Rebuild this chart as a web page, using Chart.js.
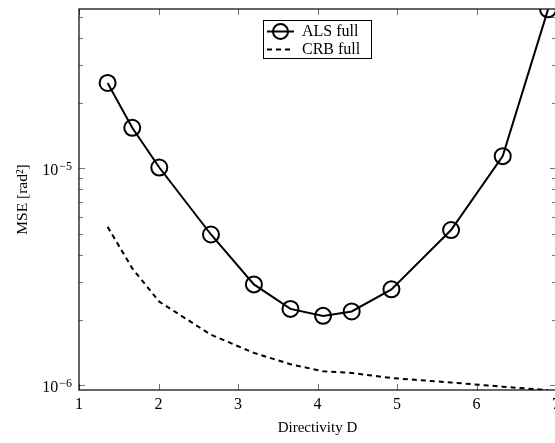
<!DOCTYPE html>
<html>
<head>
<meta charset="utf-8">
<script src="https://cdn.jsdelivr.net/npm/chart.js@4/dist/chart.umd.min.js"></script>
<style>
  html, body { margin: 0; padding: 0; background: #fff; overflow: hidden; }
  #wrap { width: 560px; height: 443px; }
</style>
</head>
<body>
<div id="wrap"><canvas id="myChart" width="560" height="443"></canvas></div>
<script>
// directivity values (x) and MSE values
const directivity = [1.36, 1.67, 2.01, 2.66, 3.2, 3.66, 4.07, 4.43, 4.93, 5.68, 6.33, 6.9];
const alsFull = [2.48e-5, 1.54e-5, 1.01e-5, 4.96e-6, 2.92e-6, 2.25e-6, 2.09e-6, 2.19e-6, 2.77e-6, 5.2e-6, 1.14e-5, 5.42e-5];
const crbFull = [5.38e-6, 3.46e-6, 2.43e-6, 1.71e-6, 1.41e-6, 1.25e-6, 1.16e-6, 1.14e-6, 1.08e-6, 1.03e-6, 0.985e-6, 0.95e-6];
const xTicks = [1, 2, 3, 4, 5, 6, 7];
const yMajor = [1e-6, 1e-5];
const yTicks = [1e-6, 2e-6, 3e-6, 4e-6, 5e-6, 6e-6, 7e-6, 8e-6, 9e-6, 1e-5, 2e-5, 3e-5, 4e-5, 5e-5];
const seriesNames = ["ALS full", "CRB full"];

const serif = "'Liberation Serif', 'DejaVu Serif', serif";

// axis frame, inward ticks, 10^n labels and legend box (pgfplots look)
const framePlugin = {
  id: "frame",
  afterDatasetsDraw(chart) {
    const ctx = chart.ctx;
    const a = chart.chartArea;
    const xs = chart.scales.x;
    const ys = chart.scales.y;
    ctx.save();
    ctx.strokeStyle = "rgba(0,0,0,0.55)";
    ctx.lineWidth = 1;
    ctx.beginPath();
    xTicks.forEach((t) => {
      const px = Math.round(xs.getPixelForValue(t)) + 0.5;
      ctx.moveTo(px, a.bottom);
      ctx.lineTo(px, a.bottom - 6);
      ctx.moveTo(px, a.top);
      ctx.lineTo(px, a.top + 6);
    });
    yTicks.forEach((t) => {
      const py = Math.round(ys.getPixelForValue(t)) + 0.5;
      const len = yMajor.includes(t) ? 6 : 4;
      ctx.moveTo(a.left, py);
      ctx.lineTo(a.left + len, py);
      ctx.moveTo(a.right, py);
      ctx.lineTo(a.right - len, py);
    });
    ctx.stroke();

    ctx.strokeStyle = "#000";
    ctx.lineWidth = 1.2;
    ctx.strokeRect(a.left, a.top, a.right - a.left, a.bottom - a.top);

    // y tick labels 10^n with a real superscript
    ctx.fillStyle = "#000";
    ctx.textBaseline = "alphabetic";
    yMajor.forEach((t) => {
      const py = ys.getPixelForValue(t);
      const expo = "\u2212" + String(-Math.round(Math.log10(t)));
      ctx.font = "12px " + serif;
      const ew = ctx.measureText(expo).width;
      const right = a.left - 7;
      ctx.textAlign = "right";
      ctx.fillText(expo, right, py + 1.5);
      ctx.font = "16px " + serif;
      ctx.fillText("10", right - ew - 1, py + 7);
    });

    // legend
    const bx = 263.5, by = 20.5, bw = 108, bh = 38;
    ctx.fillStyle = "#fff";
    ctx.fillRect(bx, by, bw, bh);
    ctx.lineWidth = 1;
    ctx.strokeStyle = "#000";
    ctx.strokeRect(bx, by, bw, bh);

    ctx.lineWidth = 2;
    ctx.beginPath();
    ctx.moveTo(267, 31.5);
    ctx.lineTo(294, 31.5);
    ctx.stroke();
    ctx.beginPath();
    ctx.arc(280.5, 31.5, 7.5, 0, Math.PI * 2);
    ctx.stroke();

    ctx.setLineDash([5, 4]);
    ctx.beginPath();
    ctx.moveTo(267, 49.5);
    ctx.lineTo(294, 49.5);
    ctx.stroke();
    ctx.setLineDash([]);

    ctx.fillStyle = "#000";
    ctx.font = "16px " + serif;
    ctx.textBaseline = "middle";
    ctx.textAlign = "left";
    ctx.fillText(seriesNames[0], 302, 32);
    ctx.fillText(seriesNames[1], 302, 50);
    ctx.restore();
  },
};

const ctx = document.getElementById("myChart").getContext("2d");
const myChart = new Chart(ctx, {
  type: "line",
  data: {
    datasets: [
      {
        label: seriesNames[0],
        data: directivity.map((d, i) => ({ x: d, y: alsFull[i] })),
        borderColor: "#000",
        borderWidth: 2,
        pointRadius: 8,
        pointBorderWidth: 2,
        pointBorderColor: "#000",
        pointBackgroundColor: "rgba(0,0,0,0)",
        tension: 0,
      },
      {
        label: seriesNames[1],
        data: directivity.map((d, i) => ({ x: d, y: crbFull[i] })),
        borderColor: "#000",
        borderWidth: 2,
        borderDash: [5, 4],
        pointRadius: 0,
        tension: 0,
      },
    ],
  },
  options: {
    responsive: false,
    animation: false,
    layout: { autoPadding: false, padding: { top: 9, right: 4, left: 0, bottom: 0 } },
    plugins: {
      legend: { display: false },
      tooltip: { enabled: false },
    },
    scales: {
      x: {
        type: "linear",
        min: 1,
        max: 7,
        afterBuildTicks: (scale) => {
          scale.ticks = xTicks.map((v) => ({ value: v }));
        },
        afterFit: (scale) => {
          scale.height = 53;
          scale.paddingLeft = 0;
          scale.paddingRight = 0;
        },
        grid: { display: false, drawTicks: false },
        border: { display: false },
        ticks: {
          color: "#000",
          padding: 5,
          maxRotation: 0,
          font: { family: serif, size: 16 },
          callback: (v) => String(v),
        },
        title: {
          display: true,
          text: "Directivity D",
          color: "#000",
          font: { family: serif, size: 15 },
          padding: { top: 0, bottom: 6 },
        },
      },
      y: {
        type: "logarithmic",
        min: 0.951e-6,
        max: 5.44e-5,
        afterBuildTicks: (scale) => {
          scale.ticks = yTicks.map((v) => ({ value: v }));
        },
        afterFit: (scale) => {
          scale.width = 79;
          scale.paddingTop = 0;
          scale.paddingBottom = 0;
        },
        grid: { display: false, drawTicks: false },
        border: { display: false },
        ticks: { display: false },
        title: {
          display: true,
          text: "MSE [rad\u00B2]",
          color: "#000",
          font: { family: serif, size: 15.5 },
          padding: { top: 14, bottom: 0 },
        },
      },
    },
  },
  plugins: [framePlugin],
});
</script>
</body>
</html>
